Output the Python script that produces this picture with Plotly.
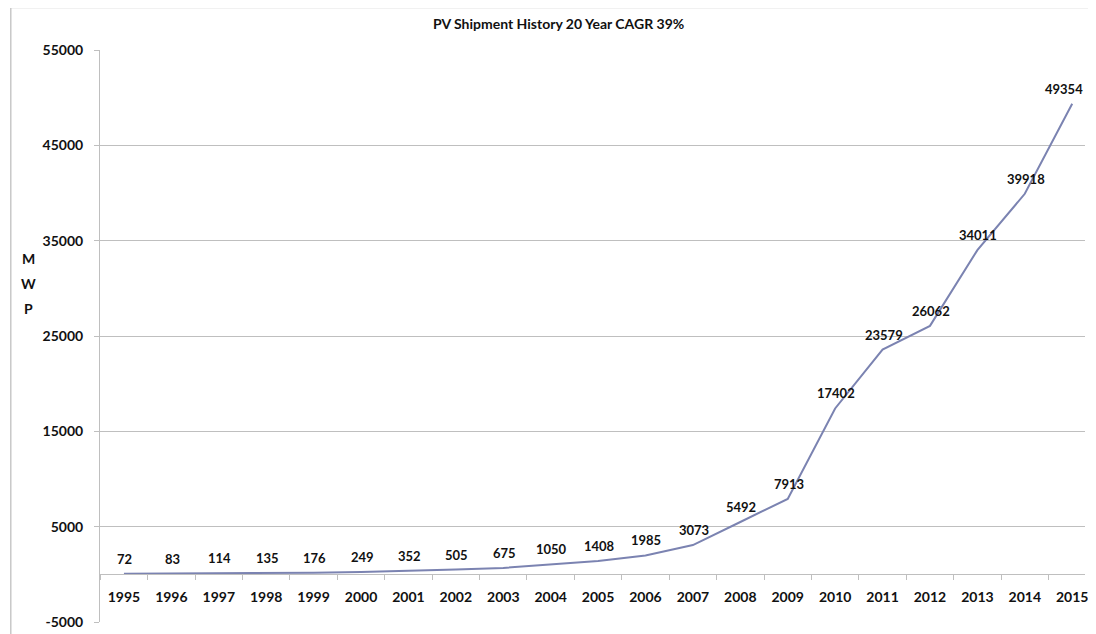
import plotly.graph_objects as go

years = [str(y) for y in range(1995, 2016)]
mwp = [72, 83, 114, 135, 176, 249, 352, 505, 675, 1050, 1408, 1985, 3073,
       5492, 7913, 17402, 23579, 26062, 34011, 39918, 49354]
y_ticks = [-5000, 5000, 15000, 25000, 35000, 45000, 55000]
y_axis_letters = ["M", "W", "P"]
title_text = "PV Shipment History 20 Year CAGR 39%"

FONT = "Lato"
GRID = "#bfbfbf"
TXT = "#111111"

# the page adds an 8px margin; figure coords = screen coords - 8
W, H = 1080, 626
L, R, T, B = 92, 0, 42, 12
PW, PH = W - L - R, H - T - B

fig = go.Figure()
fig.add_trace(go.Scatter(
    x=years, y=mwp, mode="lines",
    line=dict(color="#7b83b1", width=2),
    hoverinfo="skip", showlegend=False,
))

last = len(mwp) - 1
for i, v in enumerate(mwp):
    if i == last:
        # keep the last label inside the figure edge
        anchor, shift = "right", 13
    else:
        anchor, shift = "center", 1
    fig.add_annotation(x=i, y=v, xref="x", yref="y", text=f"<b>{v}</b>",
                       showarrow=False, yshift=15, xshift=shift,
                       xanchor=anchor, yanchor="middle",
                       font=dict(family=FONT, size=13, color=TXT))

fig.update_layout(
    width=W, height=H,
    margin=dict(l=L, r=R, t=T, b=B),
    paper_bgcolor="white", plot_bgcolor="white",
    title=dict(text=f"<b>{title_text}</b>",
               xref="paper", x=(552 - L) / PW, xanchor="center",
               y=1 - 16 / H, yanchor="middle",
               font=dict(family=FONT, size=14, color=TXT)),
    xaxis=dict(
        type="category", range=[-0.505, 20.27],
        anchor="free", position=5000 / 60000,
        showline=True, linecolor=GRID, linewidth=1,
        ticks="outside", tickson="boundaries", ticklen=5, tickcolor=GRID,
        showgrid=False, zeroline=False,
        ticklabelstandoff=10,
        tickfont=dict(family=FONT, size=14, color=TXT, weight="bold"),
    ),
    yaxis=dict(
        range=[-5000, 55000], tickvals=y_ticks,
        ticktext=[str(v) for v in y_ticks],
        showgrid=True, gridcolor=GRID, gridwidth=1,
        showline=True, linecolor=GRID, linewidth=1,
        ticks="outside", ticklen=5, tickcolor=GRID,
        zeroline=False, ticklabelstandoff=8, ticklabeloverflow="allow",
        tickfont=dict(family=FONT, size=14, color=TXT, weight="bold"),
    ),
)

for i, letter in enumerate(y_axis_letters):
    fy = 250 + 25 * i
    fig.add_annotation(text=f"<b>{letter}</b>", xref="paper", yref="paper",
                       x=(20 - L) / PW, y=(H - B - fy) / PH,
                       xanchor="center", yanchor="middle", showarrow=False,
                       font=dict(family=FONT, size=14, color=TXT))

# chart-area border (left and top edges visible)
bx = (2.5 - L) / PW
by = (H - B + 0.5) / PH
fig.add_shape(type="line", xref="paper", yref="paper", x0=bx, x1=bx, y0=-0.1, y1=by,
              line=dict(color="#c8c8c8", width=1.5), layer="below")
fig.add_shape(type="line", xref="paper", yref="paper", x0=bx, x1=1.05, y0=by, y1=by,
              line=dict(color="#c8c8c8", width=1.5), layer="below")

fig.write_html("out.html")
